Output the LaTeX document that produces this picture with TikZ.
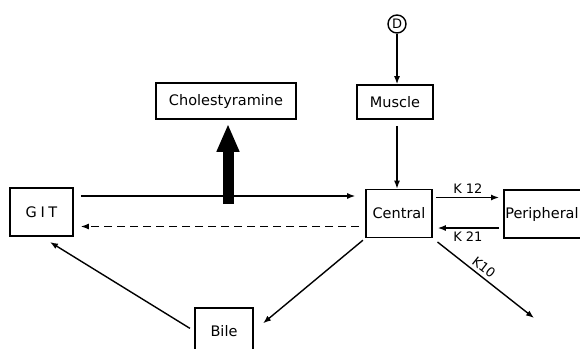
\documentclass[tikz,border=0pt]{standalone}
\usepackage{fontspec}
\setmainfont{DejaVu Sans}
\usetikzlibrary{arrows.meta}

\begin{document}
\begin{tikzpicture}[x=1pt,y=-1pt,->,>={Latex[length=8pt,width=6pt]},line width=1.4pt,
    font=\fontsize{14.5}{17}\selectfont]
  \tikzstyle{box}=[rectangle,draw,line width=1.6pt,inner sep=2pt]
  \tikzstyle{lbl}=[font=\fontsize{13}{15}\selectfont]
  \tikzstyle{heavy}=[line width=11pt,-{Triangle[width=21pt,length=28pt]}]
  \useasboundingbox (0,0) rectangle (580,348);
  \node[circle,draw,minimum size=18pt,inner sep=0pt,lbl] (D) at (397,24) {D};
  \node[box,minimum width=76pt,minimum height=34pt] (Muscle) at (395,102) {Muscle};
  \node[box,minimum width=140pt,minimum height=36pt] (Cholestyramine) at (226,101) {Cholestyramine};
  \node[box,minimum width=63pt,minimum height=48pt] (GIT) at (41.5,212) {\addfontfeature{LetterSpace=25}GIT};
  \node[box,minimum width=66pt,minimum height=48pt] (Central) at (399,213.5) {Central};
  \node[box,anchor=west,minimum height=48pt,inner xsep=1.5pt,text width=90pt,align=left] (Peripheral) at (503,214) {Peripheral};
  \node[box,minimum width=58pt,minimum height=46pt] (Bile) at (224,331) {Bile};
  \coordinate (out) at (534,318);
  \coordinate (resin) at (228,204);
  \draw (D) -- (D |- Muscle.north);
  \draw[shorten <=6pt] (D |- Muscle.south) -- (D |- Central.north);
  \draw[shorten <=7pt,shorten >=10pt] ([yshift=16pt]GIT.east) -- ([yshift=16pt]GIT.east -| Central.west);
  \draw[dash pattern=on 8pt off 5pt,shorten <=6pt,shorten >=7pt] ([yshift=-13pt]Central.west) -- ([yshift=-13pt]Central.west -| GIT.east);
  \draw[heavy,shorten >=4pt] (resin) -- (resin |- Cholestyramine.south);
  \draw[shorten <=3pt,shorten >=4pt] ([yshift=16pt]Central.east) -- node[above,lbl] {K 12} ([yshift=16pt]Central.east -| Peripheral.west);
  \draw[shorten <=4pt,shorten >=5pt] ([yshift=-14pt]Peripheral.west) -- node[below,lbl] {K 21} ([yshift=-14pt]Peripheral.west -| Central.east);
  \draw[shorten <=6pt] (Central.south east) -- node[above,sloped,pos=0.45,lbl] {K10} (out);
  \draw[shorten <=3pt,shorten >=12pt] (Central.south west) -- (Bile.east);
  \draw[shorten <=5pt,shorten >=10pt] (Bile.west) -- (GIT.south);
\end{tikzpicture}
\end{document}
